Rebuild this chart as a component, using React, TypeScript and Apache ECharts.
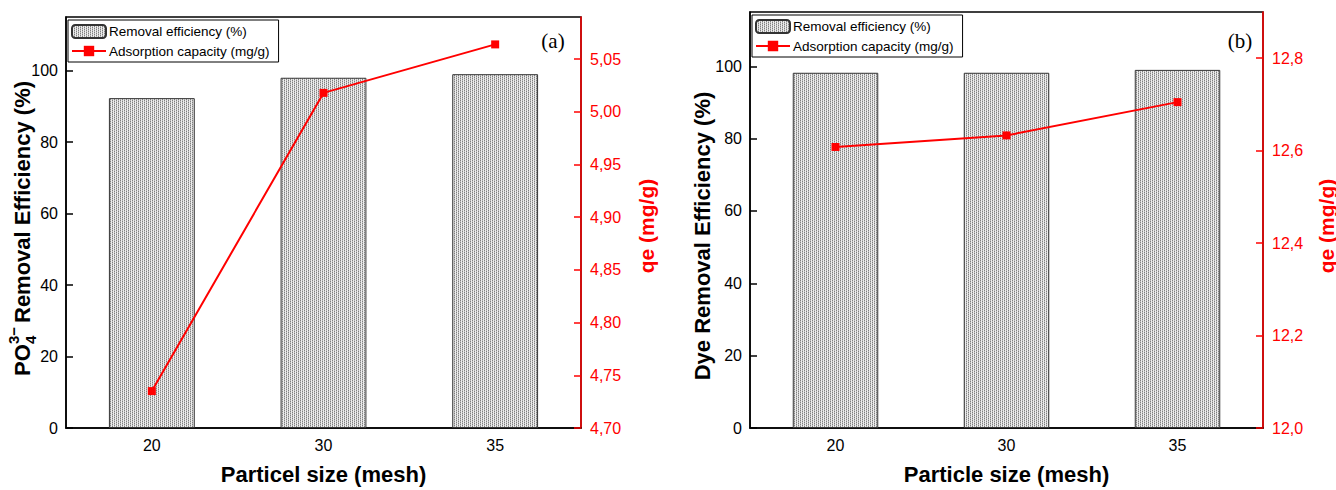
import React, { useEffect, useRef } from 'react';
import * as echarts from 'echarts';

const categories = ['20', '30', '35'];
const removalA = [92.3, 98.0, 99.0];
const capacityA = [4.735, 5.018, 5.064];
const removalB = [98.2, 98.2, 99.0];
const capacityB = [12.608, 12.633, 12.705];
const leftTicks = [0, 20, 40, 60, 80, 100];
const rightTicksA = [4.7, 4.75, 4.8, 4.85, 4.9, 4.95, 5.0, 5.05];
const rightTicksB = [12.0, 12.2, 12.4, 12.6, 12.8];

const FONT = 'Arial, "Liberation Sans", sans-serif';
const SERIF = '"Times New Roman", "Liberation Serif", serif';
const RED = '#ff0000';

function makePattern(): HTMLCanvasElement {
  const c = document.createElement('canvas');
  c.width = 4;
  c.height = 4;
  const ctx = c.getContext('2d')!;
  for (let y = 0; y < 4; y++) {
    for (let x = 0; x < 4; x++) {
      const k = (x + 2 * y) % 4;
      ctx.fillStyle = k === 0 ? '#808080' : k === 2 ? '#bcbcbc' : '#ededed';
      ctx.fillRect(x, y, 1, 1);
    }
  }
  return c;
}

function leftAxis(gridIndex: number) {
  return {
    gridIndex,
    type: 'value',
    position: 'left',
    min: 0,
    max: 115,
    axisLine: { show: true, lineStyle: { color: '#000', width: 1.5 } },
    axisTick: { show: true, inside: true, length: 7, customValues: leftTicks, lineStyle: { color: '#000', width: 1.5 } },
    axisLabel: { customValues: leftTicks, fontSize: 16, color: '#000', margin: 8, fontFamily: FONT },
    splitLine: { show: false },
  };
}

function rightAxis(gridIndex: number, min: number, max: number, ticks: number[], digits: number) {
  return {
    gridIndex,
    type: 'value',
    position: 'right',
    min,
    max,
    axisLine: { show: true, lineStyle: { color: RED, width: 1.5 } },
    axisTick: { show: true, inside: true, length: 7, customValues: ticks, lineStyle: { color: RED, width: 1.5 } },
    axisLabel: {
      customValues: ticks,
      fontSize: 16,
      color: RED,
      margin: 9,
      fontFamily: FONT,
      formatter: (v: number) => v.toFixed(digits).replace('.', ','),
    },
    splitLine: { show: false },
  };
}

function xAxis(gridIndex: number, name: string) {
  return {
    gridIndex,
    type: 'category',
    data: categories,
    boundaryGap: true,
    name,
    nameLocation: 'middle',
    nameGap: 35,
    nameTextStyle: { fontSize: 22, fontWeight: 'bold', color: '#000', fontFamily: FONT },
    axisLine: { show: true, lineStyle: { color: '#000', width: 1.5 } },
    axisTick: { show: true, inside: true, alignWithLabel: true, length: 7, lineStyle: { color: '#000', width: 1.5 } },
    axisLabel: { fontSize: 16, color: '#000', margin: 9, fontFamily: FONT },
    splitLine: { show: false },
  };
}

function legend(left: number, top: number) {
  return {
    orient: 'vertical',
    left,
    top,
    itemWidth: 34,
    itemHeight: 13,
    itemGap: 5,
    padding: [4, 9, 4, 3],
    borderColor: '#000',
    borderWidth: 1,
    backgroundColor: '#fff',
    textStyle: { fontSize: 13.5, color: '#000', fontFamily: FONT, padding: [0, 0, 0, -2] },
    data: ['Removal efficiency (%)', 'Adsorption capacity (mg/g)'],
  };
}

function rotText(x: number, y: number, text: string, color: string, size: number) {
  return {
    type: 'text',
    x,
    y,
    rotation: Math.PI / 2,
    style: {
      text,
      fill: color,
      fontSize: size,
      fontWeight: 'bold',
      fontFamily: FONT,
      textAlign: 'center',
      textVerticalAlign: 'middle',
    },
  };
}

export default function App() {
  const ref = useRef<HTMLDivElement>(null);
  useEffect(() => {
    if (!ref.current) return;
    const chart = echarts.init(ref.current, null, { renderer: 'svg' });
    const pattern = makePattern();
    const barFill: any = { image: pattern, repeat: 'repeat', imageWidth: 4, imageHeight: 4 };
    const barStyle = { color: barFill, borderColor: '#333', borderWidth: 1 };
    const lineCommon = {
      type: 'line',
      symbol: 'rect',
      symbolSize: 8,
      lineStyle: { color: RED, width: 2 },
      itemStyle: { color: RED },
      z: 5,
    };
    const subStyle = { fill: '#000', fontSize: 15, fontWeight: 'bold', fontFamily: FONT, textAlign: 'left', textVerticalAlign: 'middle' };
    const mainStyle = { fill: '#000', fontSize: 22, fontWeight: 'bold', fontFamily: FONT, textAlign: 'left', textVerticalAlign: 'middle' };
    chart.setOption({
      animation: false,
      backgroundColor: '#fff',
      grid: [
        { left: 66, top: 17, width: 515, height: 419, show: true, borderColor: '#000', borderWidth: 1.5, backgroundColor: 'transparent' },
        { left: 750, top: 12, width: 513, height: 424, show: true, borderColor: '#000', borderWidth: 1.5, backgroundColor: 'transparent' },
      ],
      xAxis: [xAxis(0, 'Particel size (mesh)'), xAxis(1, 'Particle size (mesh)')],
      yAxis: [
        leftAxis(0),
        rightAxis(0, 4.7, 5.09, rightTicksA, 2),
        leftAxis(1),
        rightAxis(1, 12.0, 12.9, rightTicksB, 1),
      ],
      legend: [legend(68, 20), legend(752, 15)],
      series: [
        { type: 'bar', name: 'Removal efficiency (%)', xAxisIndex: 0, yAxisIndex: 0, data: removalA, barWidth: '50%', itemStyle: barStyle },
        { ...lineCommon, name: 'Adsorption capacity (mg/g)', xAxisIndex: 0, yAxisIndex: 1, data: capacityA },
        { type: 'bar', name: 'Removal efficiency (%)', xAxisIndex: 1, yAxisIndex: 2, data: removalB, barWidth: '50%', itemStyle: barStyle },
        { ...lineCommon, name: 'Adsorption capacity (mg/g)', xAxisIndex: 1, yAxisIndex: 3, data: capacityB },
      ],
      graphic: [
        {
          type: 'group',
          x: 22,
          y: 228,
          rotation: Math.PI / 2,
          children: [
            { type: 'text', x: -148, y: 0, style: { ...mainStyle, text: 'PO' } },
            { type: 'text', x: -116, y: 8, style: { ...subStyle, text: '4' } },
            { type: 'text', x: -116, y: -9, style: { ...subStyle, text: '3\u2212' } },
            { type: 'text', x: -95, y: 0, style: { ...mainStyle, text: 'Removal Efficiency (%)' } },
          ],
        },
        rotText(702, 236, 'Dye Removal Efficiency (%)', '#000', 22),
        rotText(646, 226, 'qe (mg/g)', RED, 21),
        rotText(1326, 226, 'qe (mg/g)', RED, 21),
        { type: 'text', x: 553, y: 41, style: { text: '(a)', fill: '#000', fontSize: 21, fontFamily: SERIF, textAlign: 'center', textVerticalAlign: 'middle' } },
        { type: 'text', x: 1240, y: 41, style: { text: '(b)', fill: '#000', fontSize: 21, fontFamily: SERIF, textAlign: 'center', textVerticalAlign: 'middle' } },
      ],
    });
    return () => chart.dispose();
  }, []);
  return <div ref={ref} style={{ position: 'fixed', left: 0, top: 0, width: 1336, height: 490 }} />;
}
